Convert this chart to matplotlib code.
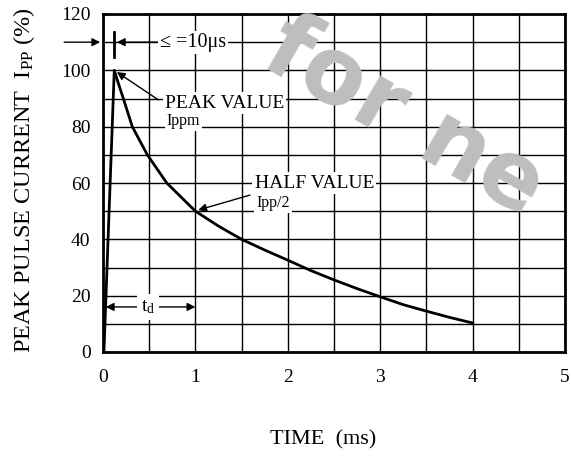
import numpy as np
import matplotlib
matplotlib.use('Agg')
import matplotlib.pyplot as plt

plt.rcParams['font.family'] = ['Liberation Serif', 'DejaVu Serif']
plt.rcParams['mathtext.fontset'] = 'custom'
plt.rcParams['mathtext.rm'] = 'Liberation Serif'
plt.rcParams['mathtext.it'] = 'Liberation Serif:italic'

# pulse waveform (time in ms, current in % of Ippm)
time_ms = [0.01, 0.122, 0.17, 0.22, 0.317, 0.48, 0.69, 1.0, 1.25, 1.5, 1.75,
           2.0, 2.25, 2.5, 2.75, 3.0, 3.25, 3.5, 3.75, 4.0]
current_pct = [0, 100, 95, 90, 80, 70, 60, 50, 44.7, 40, 36.2,
               32.6, 28.9, 25.6, 22.5, 19.6, 16.8, 14.5, 12.3, 10.3]

x_ticks = [0, 1, 2, 3, 4, 5]
y_ticks = [0, 20, 40, 60, 80, 100, 120]

fig = plt.figure(figsize=(5.71, 4.59), dpi=100)
ax = fig.add_axes([103/571, 1-352/459, 462/571, 338/459])

ax.plot(time_ms, current_pct, color='k', lw=2.0, zorder=3,
        solid_joinstyle='round')

ax.set_xlim(0, 5)
ax.set_ylim(0, 120)
ax.set_xticks(x_ticks)
ax.set_yticks(y_ticks)
ax.set_xticks(np.arange(0.5, 5, 1.0), minor=True)
ax.set_yticks(np.arange(10, 120, 20), minor=True)
ax.grid(True, which='both', color='k', lw=1.0)
ax.tick_params(which='both', length=0, labelsize=14)
ax.tick_params(axis='x', pad=12)
ax.tick_params(axis='y', pad=9)
for s in ax.spines.values():
    s.set_linewidth(2.0)

fig.text(24/571, 1-180/459, 'PEAK PULSE CURRENT  I$_{\\mathrm{PP}}$ (%)',
         rotation=90, ha='center', va='center', fontsize=17.5)
fig.text(323/571, 1-440/459, 'TIME  (ms)', ha='center', va='center', fontsize=16)

white = dict(facecolor='white', edgecolor='none', pad=1.5)
arrow = dict(arrowstyle='-|>', color='k', lw=1.0, mutation_scale=12, shrinkA=0, shrinkB=0)

# rise time marker
ax.annotate('', xy=(-0.03, 110), xytext=(-0.42, 110), arrowprops=arrow,
            annotation_clip=False)
ax.plot([0.12, 0.12], [104.8, 113.7], color='k', lw=2.0, zorder=4)
ax.annotate('', xy=(0.15, 110), xytext=(0.6, 110), arrowprops=arrow)
ax.text(0.62, 110, '\u2264 =10\u03bcs', ha='left', va='center', fontsize=14.5,
        bbox=white, zorder=5)

# peak value
ax.annotate('', xy=(0.15, 99.4), xytext=(0.6, 89.5), arrowprops=arrow)
ax.text(0.67, 88.4, 'PEAK VALUE', ha='left', va='center', fontsize=14,
        bbox=white, zorder=5)
ax.text(0.69, 82, 'Ippm', ha='left', va='center', fontsize=11.5,
        bbox=white, zorder=5)

# half value
ax.annotate('', xy=(1.03, 50.4), xytext=(1.59, 55.7), arrowprops=arrow)
ax.text(1.64, 60, 'HALF VALUE', ha='left', va='center', fontsize=14,
        bbox=white, zorder=5)
ax.text(1.66, 53, 'Ipp/2', ha='left', va='center', fontsize=11.5,
        bbox=white, zorder=5)

# duration
ax.annotate('', xy=(0.03, 16), xytext=(1.0, 16),
            arrowprops=dict(arrowstyle='<|-|>', color='k', lw=1.0,
                            mutation_scale=12, shrinkA=0, shrinkB=0))
ax.text(0.49, 16, 't$_{\\mathrm{d}}$', ha='center', va='center', fontsize=14,
        bbox=dict(facecolor='white', edgecolor='none', pad=3), zorder=5)

# watermark (kept inside the figure)
fig.text(258/571, 1-64/459, 'for ne', ha='left', va='baseline', rotation=-30,
         rotation_mode='anchor', fontsize=66, fontweight='bold',
         family='DejaVu Sans', color='#bebebe', zorder=10)

fig.savefig('out.png', dpi=100)
